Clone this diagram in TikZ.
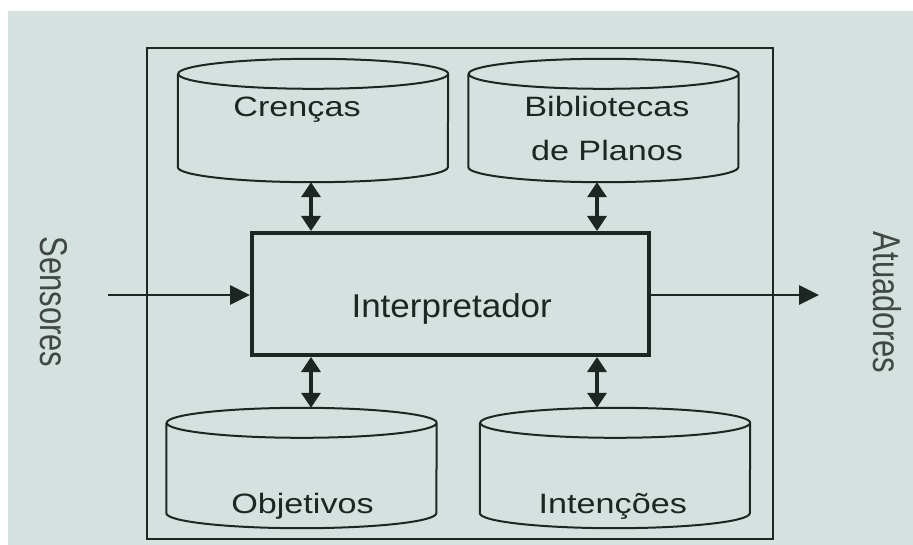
\documentclass[tikz,border=0pt]{standalone}
\usepackage{fontspec}
\setmainfont{Liberation Sans}
\newfontfamily\labelfont{Liberation Sans}[FakeStretch=1.22]
\newfontfamily\boxfont{Liberation Sans}[FakeStretch=1.06]
\usepackage{xcolor}
\usetikzlibrary{arrows.meta}
\definecolor{bgcol}{RGB}{213,225,223}
\definecolor{ink}{RGB}{30,38,36}

\begin{document}
\begin{tikzpicture}[x=1pt,y=-1pt,
  store/.style={minimum width=270pt, minimum height=123pt, inner sep=0pt},
  cyl/.style={draw=ink, line width=2pt},
  link/.style={draw=ink, line width=3.4pt, {Triangle[width=19pt,length=15pt]}-{Triangle[width=19pt,length=15pt]}},
  flow/.style={draw=ink, line width=2.8pt, -{Triangle[width=19pt,length=20pt]}},
  lbl/.style={text=ink, font=\labelfont\fontsize{28}{44}\selectfont, inner sep=0pt, anchor=base},
  side/.style={text=ink!85, font=\fontsize{31}{31}\selectfont, inner sep=0pt, rotate=-90}]
  % Background
  \useasboundingbox (0,0) rectangle (913,545);
  \fill[white] (0,0) rectangle (913,545);
  \fill[bgcol] (8,11) rectangle (913,545);
  % Define nodes
  \node[draw=ink, line width=2.6pt, minimum width=626pt, minimum height=491pt, inner sep=0pt] (agent) at (460,293.5) {};
  \node[draw=ink, line width=4pt, minimum width=397pt, minimum height=122pt, inner sep=0pt] (interp) at (450.5,294) {};
  \node[store] (cren) at (313,120.5) {};
  \node[store] (bib) at (603.5,120.5) {};
  \node[store, minimum height=120pt] (obj) at (301.5,468) {};
  \node[store, minimum height=120pt] (int) at (615,468) {};
  \foreach \n in {cren,bib,obj,int}
    \draw[cyl] ([yshift=-15pt]\n.north west) -- ([yshift=15pt]\n.south west)
      arc[start angle=180, end angle=360, x radius=135pt, y radius=15pt]
      -- ([yshift=-15pt]\n.north east)
      arc[start angle=0, end angle=360, x radius=135pt, y radius=15pt];
  % Texts
  \node[lbl] (crenT) at (297,117) {Crenças};
  \node[lbl, anchor=center, align=center] (bibT) at (607,128) {Bibliotecas\\de Planos};
  \node[lbl] (objT) at (302.5,513) {Objetivos};
  \node[lbl] (intT) at (612.8,513) {Intenções};
  \node[lbl, font=\boxfont\fontsize{33}{33}\selectfont] (interpT) at (451.7,317.3) {Interpretador};
  \node[side] (sens) at (53.5,302) {\scalebox{1}[1.25]{Sensores}};
  \node[side] (atua) at (887,302.5) {\scalebox{1}[1.25]{Atuadores}};
  % Edges
  \coordinate (sin) at (108,295);
  \coordinate (aout) at (819,295);
  \draw[flow] (sin) -- (sin -| interp.west);
  \draw[flow] (interp.east |- aout) -- (aout);
  \draw[link] ([xshift=-2pt]cren.south) -- ([xshift=-2pt]cren.south |- interp.north);
  \draw[link] ([xshift=-6.5pt]bib.south) -- ([xshift=-6.5pt]bib.south |- interp.north);
  \draw[link] ([xshift=9.5pt]obj.north) -- ([xshift=9.5pt]obj.north |- interp.south);
  \draw[link] ([xshift=-18pt]int.north) -- ([xshift=-18pt]int.north |- interp.south);
\end{tikzpicture}
\end{document}
